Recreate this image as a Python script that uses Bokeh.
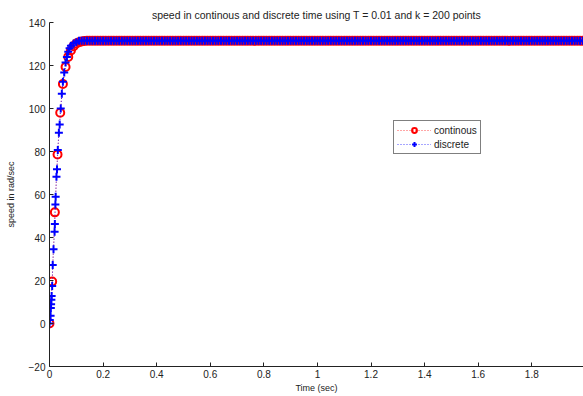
import numpy as np
from bokeh.plotting import figure
from bokeh.models import FixedTicker, Range1d, Legend, LegendItem
from bokeh.embed import file_html
from bokeh.resources import INLINE

# ---- data ----
title_text = "speed in continous and discrete time using T = 0.01 and k = 200 points"
x_label = "Time (sec)"
y_label = "speed in rad/sec"

x_ticks = [0, 0.2, 0.4, 0.6, 0.8, 1.0, 1.2, 1.4, 1.6, 1.8, 2.0]
x_tick_labels = ["0", "0.2", "0.4", "0.6", "0.8", "1", "1.2", "1.4", "1.6", "1.8", "2"]
y_ticks = [-20, 0, 20, 40, 60, 80, 100, 120, 140]
y_tick_labels = ["\u221220", "0", "20", "40", "60", "80", "100", "120", "140"]

# continuous: k = 200 samples, T = 0.01
cont_t = [round(0.01 * k, 2) for k in range(200)]
cont_rise = [0, 19.5, 51.7, 78.6, 98.0, 111.4, 119.3, 124.0, 127.0, 129.0,
             130.2, 130.8, 131.2, 131.4]
cont_speed = cont_rise + [131.5] * (200 - len(cont_rise))

# discrete
disc_t_rise = [0, 0.001, 0.004, 0.005, 0.006, 0.007, 0.008, 0.010, 0.012, 0.015,
               0.019, 0.020, 0.022, 0.023, 0.026, 0.028, 0.031, 0.035, 0.038, 0.042,
               0.046, 0.050, 0.055, 0.060, 0.065, 0.070, 0.075, 0.080, 0.090, 0.100]
disc_rise = [0, 1.6, 3.6, 7.2, 9.0, 11.0, 12.8, 17.4, 27.2, 34.5,
             42.7, 46.3, 55.4, 59.0, 68.3, 71.7, 80.7, 88.7, 92.6, 100.0,
             106.9, 112.4, 116.7, 121.4, 124.0, 126.4, 128.0, 129.2, 130.2, 130.8]
disc_t_tail = [round(0.01 * k, 2) for k in range(11, 200)]
disc_tail = [131.5] * len(disc_t_tail)
disc_t = disc_t_rise + disc_t_tail
disc_speed = disc_rise + disc_tail

# ---- figure ----
FONT = "Liberation Sans"
p = figure(width=583, height=396, output_backend="svg", toolbar_location=None,
           x_range=Range1d(0, 1.993), y_range=Range1d(-20, 140),
           min_border_left=49, min_border_right=0, min_border_top=22, min_border_bottom=30)
p.title.text = title_text
p.title.align = "center"
p.title.text_font = FONT
p.title.text_font_size = "10.5px"
p.title.text_font_style = "normal"
p.title.text_color = "#222222"
p.title.standoff = 4

p.outline_line_color = None
p.background_fill_color = "white"
p.border_fill_color = "white"
p.xgrid.visible = False
p.ygrid.visible = False

for ax in (p.xaxis[0], p.yaxis[0]):
    ax.major_tick_in = 4
    ax.major_tick_out = 0
    ax.minor_tick_in = 0
    ax.minor_tick_out = 0
    ax.axis_line_color = "#222222"
    ax.major_tick_line_color = "#222222"
    ax.major_label_text_font = FONT
    ax.major_label_text_font_size = "10px"
    ax.major_label_text_color = "#222222"
    ax.axis_label_text_font = FONT
    ax.axis_label_text_font_size = "9px"
    ax.axis_label_text_font_style = "normal"
    ax.axis_label_text_color = "#222222"

p.xaxis.ticker = FixedTicker(ticks=x_ticks)
p.xaxis.major_label_overrides = {t: l for t, l in zip(x_ticks, x_tick_labels)}
p.yaxis.ticker = FixedTicker(ticks=y_ticks)
p.yaxis.major_label_overrides = {t: l for t, l in zip(y_ticks, y_tick_labels)}
p.xaxis.axis_label = x_label
p.yaxis.axis_label = y_label
p.xaxis.major_label_standoff = 3
p.yaxis.major_label_standoff = 4
p.xaxis.axis_label_standoff = 2
p.yaxis.axis_label_standoff = 10

c_line = p.line(cont_t, cont_speed, line_color="#ff0000", line_width=1, line_dash="1 2", line_alpha=0.7)
c_pts = p.scatter(cont_t, cont_speed, marker="circle", size=8, fill_color=None,
                  line_color="#ff0000", line_width=2)
d_line = p.line(disc_t, disc_speed, line_color="#0000ff", line_width=1, line_dash="1 2", line_alpha=0.7)
d_pts = p.scatter(disc_t, disc_speed, marker="cross", size=8,
                  line_color="#0000ff", line_width=2)

legend = Legend(items=[LegendItem(label="continous", renderers=[c_line, c_pts]),
                       LegendItem(label="discrete", renderers=[d_line, d_pts])],
                location=(344, 212))
legend.label_text_font = FONT
legend.label_text_font_size = "10px"
legend.label_text_color = "#222222"
legend.border_line_color = "black"
legend.border_line_width = 1
legend.background_fill_color = "white"
legend.background_fill_alpha = 1
legend.padding = 3
legend.spacing = 2
legend.margin = 0
legend.glyph_width = 34
legend.glyph_height = 12
legend.label_height = 11
legend.label_standoff = 3
p.add_layout(legend, "center")

open("out.html", "w").write(file_html(p, INLINE))
